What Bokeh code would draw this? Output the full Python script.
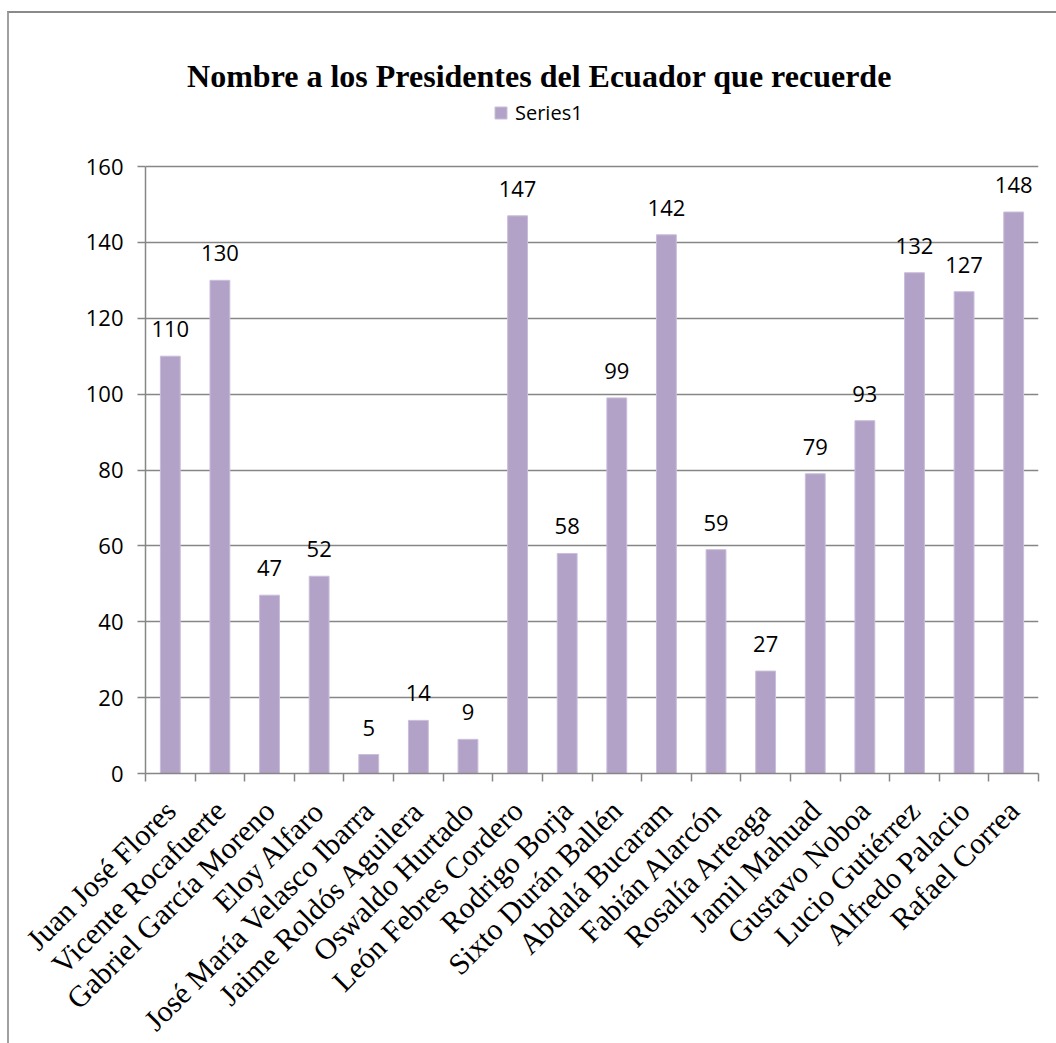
import math
from bokeh.plotting import figure
from bokeh.models import (ColumnDataSource, LabelSet, Label, Legend, LegendItem,
                          Range1d, LinearAxis, FixedTicker)
from bokeh.core.properties import value
from bokeh.embed import file_html
from bokeh.resources import INLINE

# ---- data ----
presidents = ["Juan José Flores", "Vicente Rocafuerte", "Gabriel García Moreno",
              "Eloy Alfaro", "José María Velasco Ibarra", "Jaime Roldós Aguilera",
              "Oswaldo Hurtado", "León Febres Cordero", "Rodrigo Borja",
              "Sixto Durán Ballén", "Abdalá Bucaram", "Fabián Alarcón",
              "Rosalía Arteaga", "Jamil Mahuad", "Gustavo Noboa",
              "Lucio Gutiérrez", "Alfredo Palacio", "Rafael Correa"]
counts = [110, 130, 47, 52, 5, 14, 9, 147, 58, 99, 142, 59, 27, 79, 93, 132, 127, 148]
y_ticks = [0, 20, 40, 60, 80, 100, 120, 140, 160]
series_name = "Series1"
title_text = "Nombre a los Presidentes del Ecuador que recuerde"

BAR = "#B3A2C7"
GREY = "#868686"

n = len(presidents)
centers = [i + 0.5 for i in range(n)]
src = ColumnDataSource(dict(x=centers, name=presidents, count=counts,
                            label=[str(c) for c in counts]))

# layout: plot area for 0..160 is 607 px tall; frame extends up to hold title/legend
FRAME_H = 760
AXIS_PX = 607
y_top = y_ticks[-1] * FRAME_H / AXIS_PX

p = figure(x_range=Range1d(0, n), y_range=Range1d(0, y_top),
           frame_width=893, frame_height=FRAME_H,
           min_border_left=136, min_border_top=0,
           min_border_right=18, min_border_bottom=270,
           x_axis_location=None,
           output_backend="svg", toolbar_location=None)
p.title = None
p.styles = {"border-top": "2px solid #8a8a8a", "border-left": "2px solid #a0a0a0",
            "margin-top": "11px", "margin-left": "7px"}
p.outline_line_color = None
p.background_fill_color = "white"
p.border_fill_color = "white"

# bars
r = p.vbar(x="x", top="count", width=0.4, source=src,
           fill_color=BAR, line_color="#C9BEDA", line_width=1)

# y axis
yax = p.yaxis[0]
yax.ticker = FixedTicker(ticks=y_ticks)
yax.bounds = (y_ticks[0], y_ticks[-1])
yax.axis_line_color = GREY
yax.axis_line_width = 1.5
yax.major_tick_line_color = GREY
yax.major_tick_line_width = 1.5
yax.major_tick_out = 8
yax.major_tick_in = 0
yax.minor_tick_line_color = None
yax.major_label_text_font = "Open Sans"
yax.major_label_text_font_size = "22px"
yax.major_label_text_color = "black"
yax.major_label_standoff = 14

p.ygrid.ticker = FixedTicker(ticks=y_ticks)
p.ygrid.grid_line_color = GREY
p.ygrid.grid_line_width = 1.5
p.xgrid.grid_line_color = None

# tick-only x axis at category boundaries
bounds = list(range(n + 1))
tick_axis = LinearAxis(ticker=FixedTicker(ticks=bounds),
                       major_label_overrides={b: "" for b in bounds},
                       major_label_text_font_size="0px",
                       major_label_standoff=0,
                       axis_line_color=GREY, axis_line_width=1.5,
                       major_tick_line_color=GREY, major_tick_line_width=1.5,
                       major_tick_out=8, major_tick_in=0,
                       minor_tick_line_color=None)
p.add_layout(tick_axis, "below")

# category label axis
name_axis = LinearAxis(ticker=FixedTicker(ticks=centers),
                       major_label_overrides={c: nm for c, nm in zip(centers, presidents)},
                       axis_line_color=None, major_tick_line_color=None,
                       minor_tick_line_color=None,
                       major_tick_out=0, major_tick_in=0,
                       major_label_orientation=math.pi / 4,
                       major_label_text_font="Liberation Serif",
                       major_label_text_font_size="30px",
                       major_label_text_color="black",
                       major_label_standoff=24)
p.add_layout(name_axis, "below")

# data labels
labels = LabelSet(x="x", y="count", text="label", source=src,
                  y_offset=19, text_align="center", text_baseline="alphabetic",
                  text_font=value("Open Sans"), text_font_size="22px",
                  text_color="black")
p.add_layout(labels)

# title (screen units relative to the plot frame)
p.add_layout(Label(x=394, y=FRAME_H - 62, x_units="screen", y_units="screen",
                   text=title_text, text_align="center", text_baseline="middle",
                   text_font="Liberation Serif", text_font_style="bold",
                   text_font_size="32px", text_color="black"))

# legend
legend = Legend(items=[LegendItem(label=series_name, renderers=[r])],
                location=(348, FRAME_H - 113), orientation="horizontal",
                glyph_width=15, glyph_height=15, label_standoff=7,
                padding=0, margin=0, spacing=0,
                border_line_color=None, background_fill_alpha=0,
                label_text_font="Open Sans", label_text_font_size="20px",
                label_text_color="black")
p.add_layout(legend, "center")

open("out.html", "w").write(file_html(p, INLINE))
